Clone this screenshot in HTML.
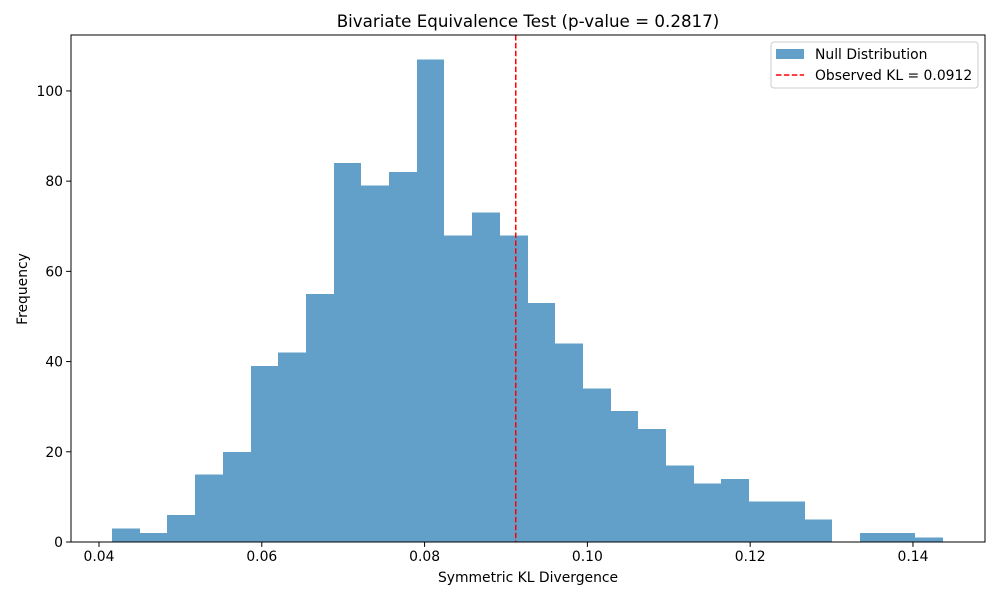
<!DOCTYPE html>
<html><head><meta charset="utf-8"><style>
body{margin:0;background:#fff;}
svg{display:block;font-family:"DejaVu Sans","Liberation Sans",sans-serif;}
</style></head><body>
<svg id="chart" width="1000" height="600">
<rect x="0" y="0" width="1000" height="600" fill="#fff"/>
<g id="bars" shape-rendering="crispEdges"></g>
<g id="axes"></g>
<text x="528" y="27" font-size="16.7" text-anchor="middle">Bivariate Equivalence Test (p-value = 0.2817)</text>
<text x="528" y="582" font-size="13.9" text-anchor="middle">Symmetric KL Divergence</text>
<text transform="translate(27,289) rotate(-90)" font-size="13.9" text-anchor="middle">Frequency</text>
<g>
<rect x="771" y="42" width="207" height="46" rx="3" fill="#fff" fill-opacity="0.8" stroke="#ccc"/>
<rect x="776" y="49" width="28" height="10" fill="#1f77b4" fill-opacity="0.7"/>
<text x="815" y="59" font-size="13.9">Null Distribution</text>
<line x1="776" y1="75" x2="804" y2="75" stroke="#ff0000" stroke-width="1.5" stroke-dasharray="5.5,2.4"/>
<text x="815" y="80" font-size="13.9">Observed KL = 0.0912</text>
</g>
</svg>
<script>
const counts=[3,2,6,15,20,39,42,55,84,79,82,107,68,73,68,53,44,34,29,25,17,13,14,9,9,5,0,2,2,1];
const binMin=0.0416, binMax=0.14369;
const observed=0.0912;
const xTicks=[0.04,0.06,0.08,0.10,0.12,0.14];
const xTickLabels=["0.04","0.06","0.08","0.10","0.12","0.14"];
const yTicks=[0,20,40,60,80,100];
const NS="http://www.w3.org/2000/svg";
const L=71,R=985,T=35,B=542;
const xMin=0.03656,xMax=0.14885,yMax=112.4;
const xs=v=>L+(v-xMin)/(xMax-xMin)*(R-L);
const ys=v=>B-v/yMax*(B-T);
function mk(t,a,p){const e=document.createElementNS(NS,t);for(const k in a)e.setAttribute(k,a[k]);p.appendChild(e);return e;}
const bars=document.getElementById('bars');
const w=(binMax-binMin)/counts.length;
counts.forEach((c,i)=>{
 const x0=Math.round(xs(binMin+i*w)),x1=Math.round(xs(binMin+(i+1)*w));
 const r=mk('rect',{x:x0,y:ys(c),width:x1-x0,height:B-ys(c),fill:'#1f77b4','fill-opacity':0.7},bars);
 
 
});
const ax=document.getElementById('axes');
const ol=mk('line',{x1:xs(observed),x2:xs(observed),y1:T,y2:B,stroke:'#ff0000','stroke-width':1.5,'stroke-dasharray':'5.5,2.4'},ax);


const fr=mk('rect',{x:L,y:T,width:R-L,height:B-T,fill:'none',stroke:'#000','stroke-width':1},ax);


xTicks.forEach((v,i)=>{
 const x=xs(v);
 mk('line',{x1:x,x2:x,y1:B,y2:B+4.9,stroke:'#000'},ax);
 const t=mk('text',{x:x,y:B+19,'font-size':13.9,'text-anchor':'middle'},ax);
 t.textContent=xTickLabels[i];
 
 
});
yTicks.forEach(v=>{
 const y=ys(v);
 mk('line',{x1:L-4.9,x2:L,y1:y,y2:y,stroke:'#000'},ax);
 const t=mk('text',{x:L-8,y:y+5,'font-size':13.9,'text-anchor':'end'},ax);
 t.textContent=v;
 
 
});
</script>
</body></html>
